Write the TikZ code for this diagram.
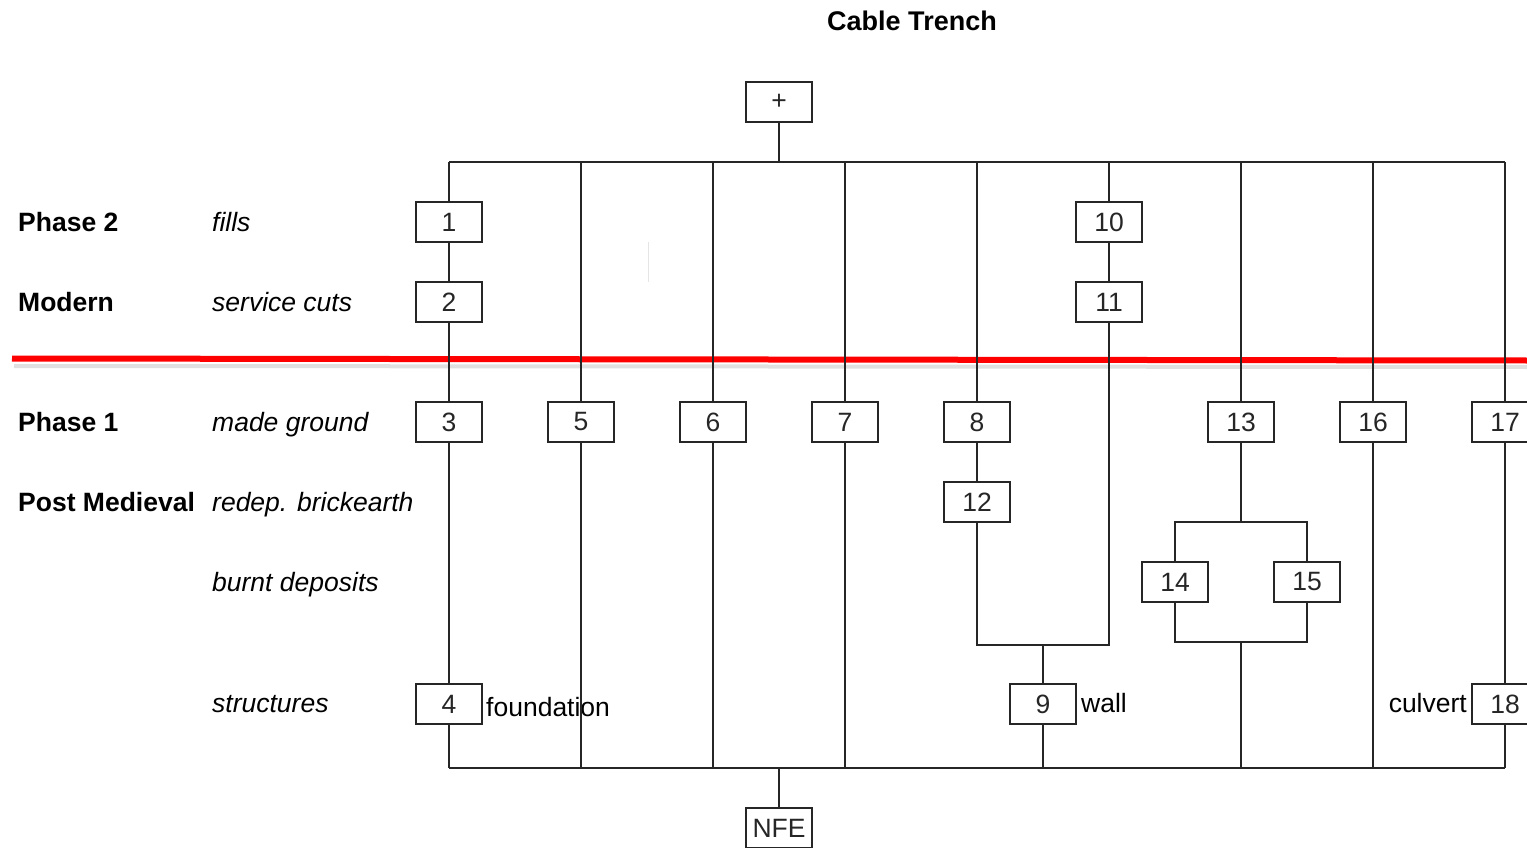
\documentclass[tikz,border=0pt]{standalone}
\usepackage{fontspec}
\setmainfont{Liberation Sans}
\begin{document}
\begin{tikzpicture}[x=1pt,y=-1pt,
  ln/.style={line width=1.8pt, black!85},
  box/.style={draw, line width=1.8pt, black!85, minimum width=66pt, minimum height=40pt, inner sep=0pt, font=\fontsize{26.5}{30}\selectfont, fill=white},
  phase/.style={anchor=base west, inner sep=0pt, font=\fontsize{26.5}{30}\selectfont\bfseries},
  ctx/.style={anchor=base west, inner sep=0pt, font=\fontsize{26.5}{30}\selectfont\itshape},
  note/.style={inner sep=0pt, font=\fontsize{26.5}{30}\selectfont}]
\useasboundingbox (0,0) rectangle (1527,848);
% title
\node[inner sep=0pt, anchor=base, font=\fontsize{27}{30}\selectfont\bfseries] (title) at (912,31) {Cable Trench};
% row labels
\node[phase] (p2) at (18,231) {Phase 2};
\node[phase] (mod) at (18,311) {Modern};
\node[phase] (p1) at (18,431) {Phase 1};
\node[phase] (pm) at (18,511) {Post Medieval};
\node[ctx] (c1) at (212,231) {fills};
\node[ctx] (c2) at (212,311) {service cuts};
\node[ctx] (c3) at (212,431) {made ground};
\node[ctx] (c4) at (212,511) {redep. brickearth};
\node[ctx] (c5) at (212,591) {burnt deposits};
\node[ctx] (c6) at (212,712) {structures};
% faint mark
\draw[black!10, line width=1pt] (648,242) -- (648,282);
% red line with shadow
\draw[black, opacity=0.12, line width=4pt] (14,366) -- (1527,367);
\draw[red, line width=6pt] (12,358.5) -- (1527,360.5);
% boxes
\node[box] (plus) at (779,102) {+};
\node[box] (nfe) at (779,828) {NFE};
\node[box] (b1) at (449,222) {1};
\node[box] (b2) at (449,302) {2};
\node[box] (b3) at (449,422) {3};
\node[box] (b4) at (449,704) {4};
\node[box] (b5) at (581,422) {5};
\node[box] (b6) at (713,422) {6};
\node[box] (b7) at (845,422) {7};
\node[box] (b8) at (977,422) {8};
\node[box] (b12) at (977,502) {12};
\node[box] (b10) at (1109,222) {10};
\node[box] (b11) at (1109,302) {11};
\node[box] (b9) at (1043,704) {9};
\node[box] (b13) at (1241,422) {13};
\node[box] (b14) at (1175,582) {14};
\node[box] (b15) at (1307,582) {15};
\node[box] (b16) at (1373,422) {16};
\node[box] (b17) at (1505,422) {17};
\node[box] (b18) at (1505,704) {18};
% notes
\node[note, anchor=base west] (fnd) at (486,716) {foundation};
\node[note, anchor=base west] (wall) at (1081,712) {wall};
\node[note, anchor=base east] (culv) at (1467,712) {culvert};
% junction coordinates
\coordinate (top) at (779,162);
\coordinate (bot) at (779,768);
\coordinate (j9) at (1043,645);
\coordinate (s13) at (1241,522);
\coordinate (m13) at (1241,642);
% connectors
\draw[ln] (plus) -- (top);
\draw[ln] (nfe) -- (bot);
\draw[ln] (b1.north |- top) -- (b17.north |- top);
\draw[ln] (b4.south |- bot) -- (b18.south |- bot);
\foreach \n in {b1,b5,b6,b7,b8,b10,b13,b16,b17}
  \draw[ln] (\n.north |- top) -- (\n.north);
\foreach \n in {b4,b5,b6,b7,b9,b16,b18}
  \draw[ln] (\n.south) -- (\n.south |- bot);
\draw[ln] (b1) -- (b2);
\draw[ln] (b2) -- (b3);
\draw[ln] (b3) -- (b4);
\draw[ln] (b8) -- (b12);
\draw[ln] (b10) -- (b11);
\draw[ln] (b12.south) |- (j9) -| (b11.south);
\draw[ln] (j9) -- (b9);
\draw[ln] (b13) -- (s13);
\draw[ln] (b14.north) |- (s13) -| (b15.north);
\draw[ln] (b14.south) |- (m13) -| (b15.south);
\draw[ln] (m13) -- (m13 |- bot);
\draw[ln] (b17) -- (b18);
\end{tikzpicture}
\end{document}
